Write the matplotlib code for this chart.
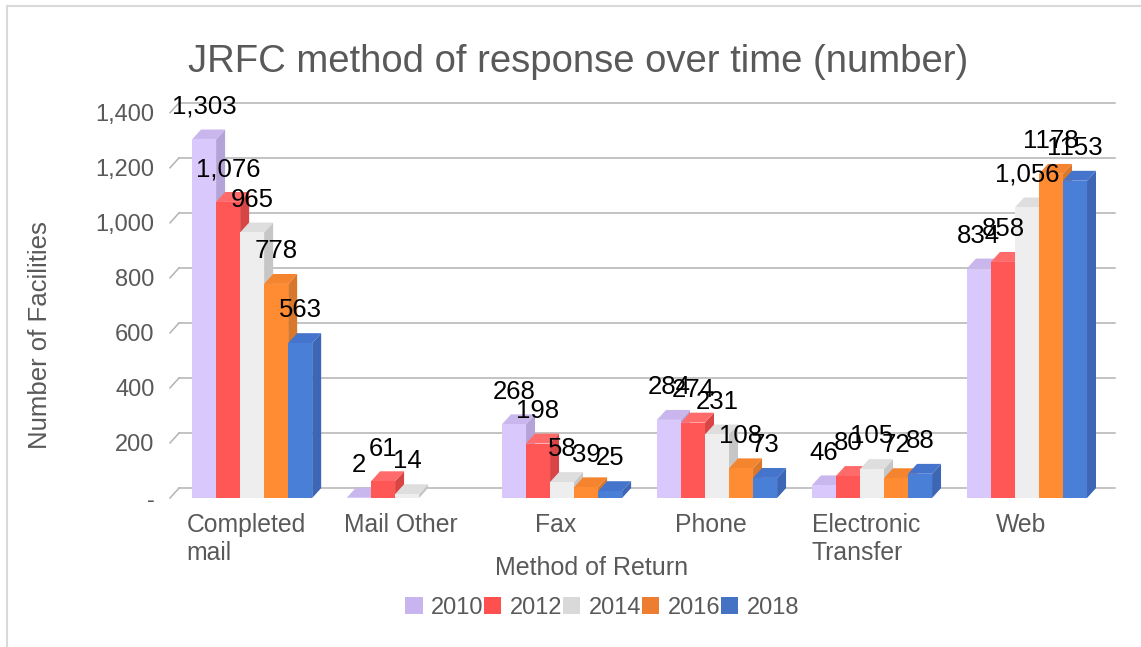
import matplotlib

matplotlib.use("Agg")
import numpy as np
import matplotlib.pyplot as plt
import matplotlib.transforms as mtransforms
from matplotlib.lines import Line2D
from matplotlib.patches import Polygon, Patch

plt.rcParams["font.family"] = ["Liberation Sans", "DejaVu Sans"]

# ── data ────────────────────────────────────────────
categories = ["Completed\nmail", "Mail Other", "Fax", "Phone",
              "Electronic\nTransfer", "Web"]
years = ["2010", "2012", "2014", "2016", "2018"]
v2010 = [1303, 2, 268, 284, 46, 834]
v2012 = [1076, 61, 198, 274, 80, 858]
v2014 = [965, 14, 58, 231, 105, 1056]
v2016 = [778, np.nan, 39, 108, 72, 1178]
v2018 = [563, np.nan, 25, 73, 88, 1153]
series = [v2010, v2012, v2014, v2016, v2018]
# labels that were shown without thousands separator in the original
no_comma = {(3, 5), (4, 5)}
yticks = [0, 200, 400, 600, 800, 1000, 1200, 1400]
ytick_labels = ["-", "200", "400", "600", "800", "1,000", "1,200", "1,400"]

# ── colours ─────────────────────────────────────────
FRONT = ["#d9c8fb", "#ff5656", "#eeeeee", "#ff8c33", "#4a7fd8"]
SIDE = ["#b5a3d8", "#d94444", "#c6c6c6", "#d9772a", "#3d66b5"]
TOP = ["#c8b6ec", "#ff6a6a", "#dedede", "#f5842f", "#4574cc"]
LEGEND = ["#c8b4ee", "#ff5050", "#d9d9d9", "#ed7d31", "#4472c4"]
GRID = "#b3b3b3"
TXT = "#595959"

fig = plt.figure(figsize=(11.41, 6.47), dpi=100)
ax = fig.add_axes([170 / 1141, 149 / 647, 936 / 1141, 399 / 647])
xmin, xmax = -0.53, 5.51
ax.set_xlim(xmin, xmax)
ax.set_ylim(0, 1450)
for s in ax.spines.values():
    s.set_visible(False)

w = 0.155      # bar width in category units
dx = 0.058     # 3d depth, x
dy = 36        # 3d depth, y

# back wall grid + slanted ticks
for t in yticks:
    ax.plot([xmin + dx, xmax + dx], [t + dy, t + dy], color=GRID, lw=1.1,
            zorder=0, clip_on=False)
    ax.plot([xmin, xmin + dx], [t, t + dy], color=GRID, lw=1.1,
            zorder=0, clip_on=False)

x = np.arange(len(categories))
for i, vals in enumerate(series):
    left = x + (i - 2.5) * w
    h = np.array(vals, dtype=float)
    ax.bar(left, h, width=w, align="edge", color=FRONT[i], edgecolor="none",
           zorder=2 + i * 3)
    for j in range(len(categories)):
        if np.isnan(h[j]):
            continue
        x0, hh = left[j], h[j]
        side = [(x0 + w, 0), (x0 + w, hh), (x0 + w + dx, hh + dy),
                (x0 + w + dx, dy)]
        top = [(x0, hh), (x0 + w, hh), (x0 + w + dx, hh + dy), (x0 + dx, hh + dy)]
        ax.add_patch(Polygon(side, closed=True, facecolor=SIDE[i],
                             edgecolor="none", zorder=1 + i * 3))
        ax.add_patch(Polygon(top, closed=True, facecolor=TOP[i],
                             edgecolor="none", zorder=1 + i * 3))
        lab = f"{int(hh)}" if (i, j) in no_comma else f"{int(hh):,}"
        ax.annotate(lab, (x0 + w / 2, hh), xytext=(0, 18.5),
                    textcoords="offset points", ha="center", va="baseline",
                    fontsize=18.5, color="black", zorder=30,
                    annotation_clip=False)

ax.set_yticks(yticks, ytick_labels)
ax.set_xticks(x, categories)
ax.tick_params(axis="y", length=0, pad=11, labelsize=17, labelcolor=TXT)
ax.tick_params(axis="x", length=0, pad=11, labelsize=17.8, labelcolor=TXT)
shift = mtransforms.ScaledTranslation(-6 / 100, 0, fig.dpi_scale_trans)
for lbl in ax.get_xticklabels():
    lbl.set_multialignment("left")
    lbl.set_transform(lbl.get_transform() + shift)

fig.text(578 / 1141, 1 - 62 / 647, "JRFC method of response over time (number)",
         ha="center", va="center", fontsize=27.5, color=TXT)
fig.text(40 / 1141, 1 - 335 / 647, "Number of Facilities", rotation=90,
         ha="center", va="center", fontsize=18.5, color=TXT)
fig.text(592 / 1141, 1 - 568 / 647, "Method of Return",
         ha="center", va="center", fontsize=18, color=TXT)

handles = [Patch(facecolor=c, edgecolor="none") for c in LEGEND]
fig.legend(handles, years, loc="center", bbox_to_anchor=(602 / 1141, 1 - 608 / 647),
           ncol=5, frameon=False, fontsize=17, labelcolor=TXT,
           handlelength=0.75, handleheight=0.75, handletextpad=0.35,
           columnspacing=0.02)

# chart frame (only top and left edges are visible in the original)
fig.add_artist(Line2D([7 / 1141, 7 / 1141], [0, 1 - 6 / 647],
                      transform=fig.transFigure, color="#d9d9d9", lw=1.5))
fig.add_artist(Line2D([7 / 1141, 1], [1 - 6 / 647, 1 - 6 / 647],
                      transform=fig.transFigure, color="#d9d9d9", lw=1.5))

fig.savefig("out.png", dpi=100)
